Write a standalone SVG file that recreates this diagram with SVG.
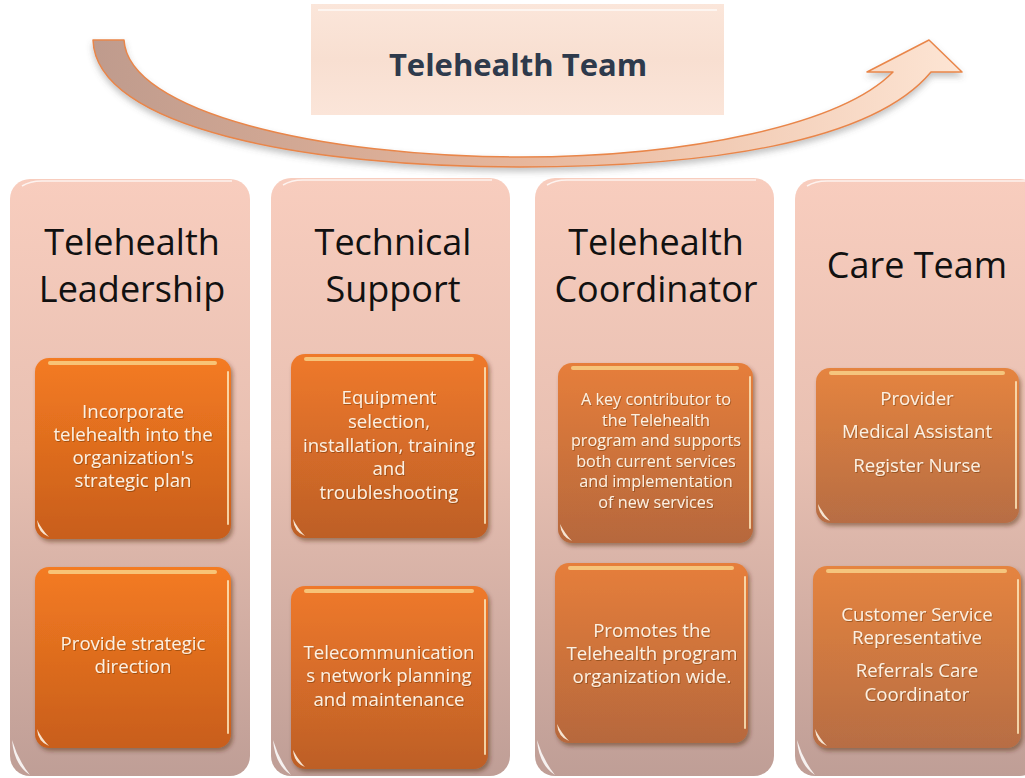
<svg xmlns="http://www.w3.org/2000/svg" width="1025" height="778" viewBox="0 0 1025 778">
  <defs>
    <linearGradient id="colFill" x1="0" y1="0" x2="0" y2="1">
      <stop offset="0" stop-color="#f8cdbe"/>
      <stop offset="0.45" stop-color="#e8c0b2"/>
      <stop offset="1" stop-color="#bf9e96"/>
    </linearGradient>
    <linearGradient id="o1" x1="0" y1="0" x2="0" y2="1">
      <stop offset="0" stop-color="#f47b22"/>
      <stop offset="1" stop-color="#c85e1b"/>
    </linearGradient>
    <linearGradient id="o2" x1="0" y1="0" x2="0" y2="1">
      <stop offset="0" stop-color="#ef792b"/>
      <stop offset="1" stop-color="#bd5f27"/>
    </linearGradient>
    <linearGradient id="o3" x1="0" y1="0" x2="0" y2="1">
      <stop offset="0" stop-color="#e67e3a"/>
      <stop offset="1" stop-color="#b6683c"/>
    </linearGradient>
    <linearGradient id="o4" x1="0" y1="0" x2="0" y2="1">
      <stop offset="0" stop-color="#e5843f"/>
      <stop offset="1" stop-color="#b76d44"/>
    </linearGradient>
    <linearGradient id="titleFill" x1="0" y1="0" x2="0" y2="1">
      <stop offset="0" stop-color="#fbe6da"/>
      <stop offset="0.5" stop-color="#f8dfd1"/>
      <stop offset="1" stop-color="#fbe5d9"/>
    </linearGradient>
    <linearGradient id="arrowFill" gradientUnits="userSpaceOnUse" x1="93" y1="0" x2="962" y2="0">
      <stop offset="0" stop-color="#bf9b8d"/>
      <stop offset="0.5" stop-color="#e8b79c"/>
      <stop offset="1" stop-color="#fde5d4"/>
    </linearGradient>
    <filter id="boxShadow" x="-10%" y="-10%" width="125%" height="125%">
      <feDropShadow dx="2" dy="3" stdDeviation="2.2" flood-color="#4a2410" flood-opacity="0.45"/>
    </filter>
    <filter id="arrowShadow" x="-5%" y="-20%" width="110%" height="160%">
      <feDropShadow dx="0" dy="4" stdDeviation="3" flood-color="#555" flood-opacity="0.35"/>
    </filter>
    <filter id="textShadow" x="-5%" y="-20%" width="110%" height="150%">
      <feDropShadow dx="0.8" dy="1" stdDeviation="0.7" flood-color="#5a2a10" flood-opacity="0.45"/>
    </filter>
    <style>
      .col { fill: url(#colFill); }
      .colHi { fill: none; stroke: #ffffff; stroke-opacity: 0.75; stroke-width: 1.5; }
      .colCurl { fill: #ffffff; opacity: 0.85; }
      .box { filter: url(#boxShadow); }
      .gloss { stroke: #f9d68c; stroke-width: 4; stroke-linecap: round; opacity: 0.8; fill: none; }
      .edge { stroke: #fbe4b8; stroke-width: 2; stroke-linecap: round; opacity: 0.85; fill: none; }
      .curl { fill: #fdf2e2; opacity: 0.9; }
      .head { font-family: "Open Sans", "Liberation Sans", sans-serif; font-size: 36px; fill: #111111; text-anchor: middle; }
      .txt { font-family: "Open Sans", "Liberation Sans", sans-serif; font-size: 18.6px; fill: #fdf0e0; text-anchor: middle; filter: url(#textShadow); }
      .txt.small { font-size: 16.2px; }
      .title { font-family: "Open Sans", "Liberation Sans", sans-serif; font-size: 31px; font-weight: bold; fill: #2e3a4c; text-anchor: middle; }
    </style>
  </defs>

  <rect width="1025" height="778" fill="#ffffff"/>

  <!-- title banner -->
  <g id="title">
    <rect x="311" y="4" width="413" height="111" fill="url(#titleFill)"/>
    <path d="M318,10 H717" stroke="#ffffff" stroke-opacity="0.6" stroke-width="2" fill="none"/>
    <text class="title" x="518" y="76">Telehealth Team</text>
  </g>

  <!-- curved cycle arrow -->
  <g id="connectors">
    <path id="flow-arrow" filter="url(#arrowShadow)" fill="url(#arrowFill)" stroke="#e9864a" stroke-width="1.5" stroke-linejoin="round"
      d="M93,40 L124,40 C128,112 320,157 520,157 C690,157 842,124 893,72 L867,72 L929,40 L962,72 L931,72 C872,143 705,167 520,167 C305,167 96,128 93,40 Z"/>
  </g>

  <!-- column 1 -->
  <g id="col-leadership">
    <rect class="col" x="10" y="179" width="240" height="597" rx="20"/>
    <path class="colHi" d="M22,186 Q30,181 42,181 H232"/>
    <path class="colCurl" d="M12,740 Q14,765 30,775 Q18,760 12,740 Z"/>
    <text class="head" x="132" y="255">Telehealth</text>
    <text class="head" x="132" y="302">Leadership</text>
    <g id="lead-plan">
      <rect class="box" x="35" y="358" width="196" height="181" rx="14" fill="url(#o1)"/>
      <path class="gloss" d="M50,363 H215"/>
      <path class="edge" d="M228,372 V524"/>
      <path class="curl" d="M37,520 Q38,533 49,537 Q42,530 37,520 Z"/>
      <text class="txt" x="133" y="418">Incorporate</text>
      <text class="txt" x="133" y="441">telehealth into the</text>
      <text class="txt" x="133" y="464">organization's</text>
      <text class="txt" x="133" y="487">strategic plan</text>
    </g>
    <g id="lead-direction">
      <rect class="box" x="35" y="567" width="196" height="181" rx="14" fill="url(#o1)"/>
      <path class="gloss" d="M50,572 H215"/>
      <path class="edge" d="M228,581 V733"/>
      <path class="curl" d="M37,729 Q38,742 49,746 Q42,739 37,729 Z"/>
      <text class="txt" x="133" y="650">Provide strategic</text>
      <text class="txt" x="133" y="673">direction</text>
    </g>
  </g>

  <!-- column 2 -->
  <g id="col-technical">
    <rect class="col" x="271" y="178" width="239" height="598" rx="20"/>
    <path class="colHi" d="M283,185 Q291,180 303,180 H492"/>
    <path class="colCurl" d="M273,740 Q275,765 291,775 Q279,760 273,740 Z"/>
    <text class="head" x="393" y="255">Technical</text>
    <text class="head" x="393" y="302">Support</text>
    <g id="tech-equipment">
      <rect class="box" x="291" y="354" width="197" height="184" rx="14" fill="url(#o2)"/>
      <path class="gloss" d="M306,359 H472"/>
      <path class="edge" d="M485,368 V523"/>
      <path class="curl" d="M293,519 Q294,532 305,536 Q298,529 293,519 Z"/>
      <text class="txt" x="389" y="404">Equipment</text>
      <text class="txt" x="389" y="428">selection,</text>
      <text class="txt" x="389" y="452">installation, training</text>
      <text class="txt" x="389" y="475">and</text>
      <text class="txt" x="389" y="499">troubleshooting</text>
    </g>
    <g id="tech-network">
      <rect class="box" x="291" y="586" width="197" height="183" rx="14" fill="url(#o2)"/>
      <path class="gloss" d="M306,591 H472"/>
      <path class="edge" d="M485,600 V754"/>
      <path class="curl" d="M293,750 Q294,763 305,767 Q298,760 293,750 Z"/>
      <text class="txt" x="389" y="659">Telecommunication</text>
      <text class="txt" x="389" y="682">s network planning</text>
      <text class="txt" x="389" y="706">and maintenance</text>
    </g>
  </g>

  <!-- column 3 -->
  <g id="col-coordinator">
    <rect class="col" x="535" y="178" width="239" height="598" rx="20"/>
    <path class="colHi" d="M547,185 Q555,180 567,180 H756"/>
    <path class="colCurl" d="M537,740 Q539,765 555,775 Q543,760 537,740 Z"/>
    <text class="head" x="656" y="255">Telehealth</text>
    <text class="head" x="656" y="302">Coordinator</text>
    <g id="coord-role">
      <rect class="box" x="558" y="363" width="195" height="180" rx="14" fill="url(#o3)"/>
      <path class="gloss" d="M573,368 H737"/>
      <path class="edge" d="M750,377 V528"/>
      <path class="curl" d="M560,524 Q561,537 572,541 Q565,534 560,524 Z"/>
      <text class="txt small" x="656" y="405">A key contributor to</text>
      <text class="txt small" x="656" y="426">the Telehealth</text>
      <text class="txt small" x="656" y="446">program and supports</text>
      <text class="txt small" x="656" y="467">both current services</text>
      <text class="txt small" x="656" y="487">and implementation</text>
      <text class="txt small" x="656" y="508">of new services</text>
    </g>
    <g id="coord-promote">
      <rect class="box" x="555" y="563" width="193" height="180" rx="14" fill="url(#o3)"/>
      <path class="gloss" d="M570,568 H732"/>
      <path class="edge" d="M745,577 V728"/>
      <path class="curl" d="M557,724 Q558,737 569,741 Q562,734 557,724 Z"/>
      <text class="txt" x="652" y="637">Promotes the</text>
      <text class="txt" x="652" y="660">Telehealth program</text>
      <text class="txt" x="652" y="683">organization wide.</text>
    </g>
  </g>

  <!-- column 4 -->
  <g id="col-care">
    <rect class="col" x="795" y="179" width="245" height="597" rx="20"/>
    <path class="colHi" d="M807,186 Q815,181 827,181 H1025"/>
    <path class="colCurl" d="M797,740 Q799,765 815,775 Q803,760 797,740 Z"/>
    <text class="head" x="917" y="278">Care Team</text>
    <g id="care-clinical">
      <rect class="box" x="816" y="368" width="203" height="155" rx="14" fill="url(#o4)"/>
      <path class="gloss" d="M831,373 H1003"/>
      <path class="edge" d="M1016,382 V508"/>
      <path class="curl" d="M818,504 Q819,517 830,521 Q823,514 818,504 Z"/>
      <text class="txt" x="917" y="405">Provider</text>
      <text class="txt" x="917" y="438">Medical Assistant</text>
      <text class="txt" x="917" y="472">Register Nurse</text>
    </g>
    <g id="care-support">
      <rect class="box" x="813" y="566" width="208" height="182" rx="14" fill="url(#o4)"/>
      <path class="gloss" d="M828,571 H1005"/>
      <path class="edge" d="M1018,580 V733"/>
      <path class="curl" d="M815,729 Q816,742 827,746 Q820,739 815,729 Z"/>
      <text class="txt" x="917" y="621">Customer Service</text>
      <text class="txt" x="917" y="644">Representative</text>
      <text class="txt" x="917" y="677">Referrals Care</text>
      <text class="txt" x="917" y="701">Coordinator</text>
    </g>
  </g>
</svg>
